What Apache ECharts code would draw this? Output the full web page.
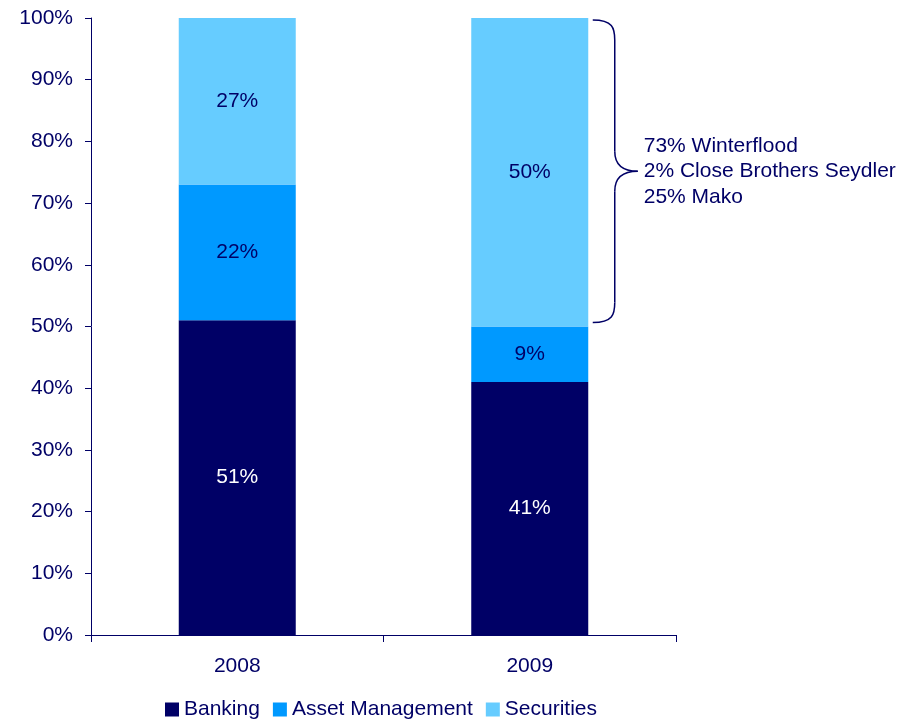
<!DOCTYPE html>
<html>
<head>
<meta charset="utf-8">
<script src="https://cdn.jsdelivr.net/npm/echarts@6/dist/echarts.min.js"></script>
<style>
  html, body { margin: 0; padding: 0; background: #fff; }
  #main { width: 921px; height: 719px; }
</style>
</head>
<body>
<div id="main"></div>
<script>
    // data
    var years = ['2008', '2009'];
    var banking = [51, 41];
    var assetManagement = [22, 9];
    var securities = [27, 50];
    var yTicks = [0, 10, 20, 30, 40, 50, 60, 70, 80, 90, 100];
    var noteLines = ['73% Winterflood', '2% Close Brothers Seydler', '25% Mako'];

    var navy = '#000066';
    var font = '"Liberation Sans", Arial, sans-serif';
    var fs = 21;

    function labelOf (color) {
        return {
            show: true,
            position: 'inside',
            color: color,
            fontSize: fs,
            fontFamily: font,
            formatter: function (p) { return p.value + '%'; }
        };
    }

    var chart = echarts.init(document.getElementById('main'));
    var options = {
        animation: false,
        textStyle: { fontFamily: font, color: navy },
        grid: { left: 91, right: 245, top: 18, bottom: 84, containLabel: false },
        legend: {
            top: 694,
            left: 160,
            itemWidth: 14,
            itemHeight: 14,
            itemGap: 13,
            icon: 'rect',
            textStyle: { color: navy, fontSize: fs, fontFamily: font },
            data: ['Banking', 'Asset Management', 'Securities']
        },
        xAxis: {
            type: 'category',
            data: years,
            axisLine: { lineStyle: { color: navy, width: 1 } },
            axisTick: { show: true, length: 7, lineStyle: { color: navy } },
            axisLabel: { color: navy, fontSize: fs, margin: 21, fontFamily: font }
        },
        yAxis: {
            type: 'value',
            min: yTicks[0],
            max: yTicks[yTicks.length - 1],
            interval: 10,
            axisLine: { show: true, lineStyle: { color: navy, width: 1 } },
            axisTick: { show: true, length: 6, lineStyle: { color: navy } },
            splitLine: { show: false },
            axisLabel: {
                color: navy,
                fontSize: fs,
                margin: 18,
                fontFamily: font,
                formatter: function (v) { return v + '%'; }
            }
        },
        series: [
            {
                name: 'Banking',
                type: 'bar',
                stack: 'total',
                barWidth: '40%',
                data: banking,
                itemStyle: { color: navy },
                label: labelOf('#ffffff')
            },
            {
                name: 'Asset Management',
                type: 'bar',
                stack: 'total',
                data: assetManagement,
                itemStyle: { color: '#0099ff' },
                label: labelOf(navy)
            },
            {
                name: 'Securities',
                type: 'bar',
                stack: 'total',
                data: securities,
                itemStyle: { color: '#66ccff' },
                label: labelOf(navy)
            }
        ]
    };
    chart.setOption(options);

    // curly brace next to the 2009 securities block
    function drawBrace () {
        var yTop = chart.convertToPixel({ yAxisIndex: 0 }, 100) + 2;
        var yBottom = chart.convertToPixel({ yAxisIndex: 0 }, banking[1] + assetManagement[1]) - 4;
        var barRight = chart.convertToPixel({ xAxisIndex: 0 }, years[1]) + 58;
        var x0 = barRight + 5;
        var mid = (yTop + yBottom) / 2;
        var xs = x0 + 22;
        var tip = x0 + 45;
        var r = 20;

        function style () {
            return { fill: null, stroke: navy, lineWidth: 1.5 };
        }
        function curve (x1, y1, c1x, c1y, c2x, c2y, x2, y2) {
            return {
                type: 'bezierCurve',
                shape: { x1: x1, y1: y1, cpx1: c1x, cpy1: c1y, cpx2: c2x, cpy2: c2y, x2: x2, y2: y2 },
                style: style()
            };
        }
        function seg (x1, y1, x2, y2) {
            return { type: 'line', shape: { x1: x1, y1: y1, x2: x2, y2: y2 }, style: style() };
        }

        chart.setOption({
            graphic: [
                curve(x0, yTop, xs - 2, yTop, xs, yTop + 8, xs, yTop + r),
                seg(xs, yTop + r, xs, mid - r),
                curve(xs, mid - r, xs, mid - 6, xs + 8, mid, tip, mid),
                curve(tip, mid, xs + 8, mid, xs, mid + 6, xs, mid + r),
                seg(xs, mid + r, xs, yBottom - r),
                curve(xs, yBottom - r, xs, yBottom - 8, xs - 2, yBottom, x0, yBottom),
                {
                    type: 'text',
                    left: tip + 6,
                    top: mid - 38,
                    style: {
                        text: noteLines.join('\n'),
                        fill: navy,
                        font: fs + 'px ' + font,
                        lineHeight: 25.5
                    }
                }
            ]
        });
    }
    drawBrace();
</script>
</body>
</html>
